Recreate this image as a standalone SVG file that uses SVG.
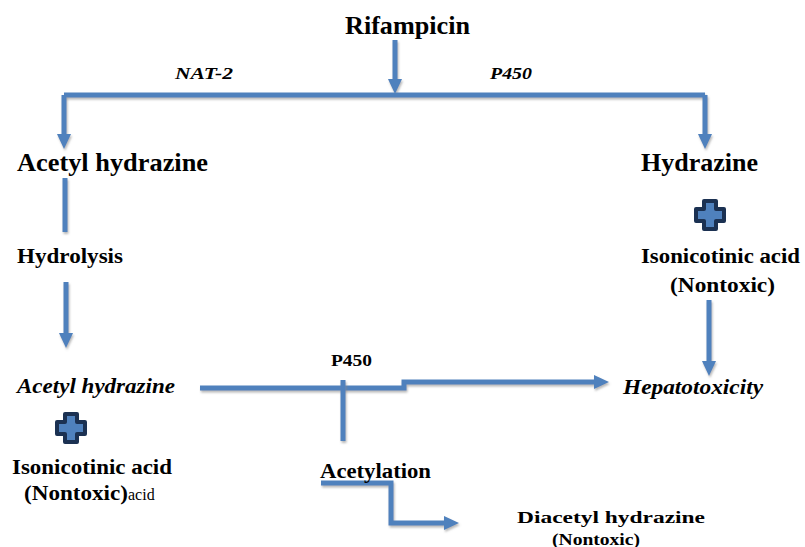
<svg xmlns="http://www.w3.org/2000/svg" width="805" height="547" viewBox="0 0 805 547">
<style>
text{font-family:'Times New Roman','Liberation Serif','DejaVu Serif',serif;fill:#000;font-weight:bold}
.big{font-size:25px}
.mid{font-size:20px}
.sm{font-size:16px}
.it{font-style:italic}
.con{fill:none;stroke:#4f81bd;stroke-width:5;filter:url(#sh)}
.plus{fill:#4f81bd;stroke:#1b3152;stroke-width:4;stroke-linejoin:round}
</style>
<defs>
<filter id="sh" filterUnits="userSpaceOnUse" x="0" y="0" width="805" height="547">
<feDropShadow dx="1" dy="2" stdDeviation="0.8" flood-color="#888" flood-opacity="0.6"/>
</filter>
<marker id="ah" markerUnits="userSpaceOnUse" markerWidth="16" markerHeight="16" refX="0" refY="8" orient="auto" viewBox="0 0 16 16">
<path d="M0,1 L15,8 L0,15 z" fill="#4f81bd"/>
</marker>
<g id="plusShape"><path class="plus" d="M-6,-14 H6 V-6 H14 V6 H6 V14 H-6 V6 H-14 V-6 H-6 Z"/></g>
</defs>

<g id="connectors">
<path class="con" d="M395,40 V79" marker-end="url(#ah)"/>
<path class="con" d="M64,95 H705"/>
<path class="con" d="M64,95 V134" marker-end="url(#ah)"/>
<path class="con" d="M705,95 V134" marker-end="url(#ah)"/>
<path class="con" d="M65,178 V232"/>
<path class="con" d="M66,282 V333" marker-end="url(#ah)"/>
<path class="con" d="M709,300 V361" marker-end="url(#ah)"/>
<path class="con" d="M200,388 H404 V382 H594" marker-end="url(#ah)"/>
<path class="con" d="M343,380 V441"/>
<path class="con" d="M321,483 H391 V523 H444" marker-end="url(#ah)"/>
</g>

<g id="rifampicin"><text class="big" x="345" y="34" textLength="125" lengthAdjust="spacingAndGlyphs">Rifampicin</text></g>
<g id="nat2"><text class="it" x="175" y="79" font-size="17" textLength="58" lengthAdjust="spacingAndGlyphs">NAT-2</text></g>
<g id="p450top"><text class="it" x="490" y="79" font-size="17" textLength="42" lengthAdjust="spacingAndGlyphs">P450</text></g>
<g id="acetylhydrazine1"><text class="big" x="17" y="171" textLength="191" lengthAdjust="spacingAndGlyphs">Acetyl hydrazine</text></g>
<g id="hydrazine"><text class="big" x="641" y="171" textLength="117" lengthAdjust="spacingAndGlyphs">Hydrazine</text></g>
<g id="hydrolysis"><text class="mid" x="17" y="263" textLength="106" lengthAdjust="spacingAndGlyphs">Hydrolysis</text></g>
<g id="plusRight"><use href="#plusShape" x="710" y="215"/></g>
<g id="isoRight">
<text class="mid" x="641" y="263" textLength="159" lengthAdjust="spacingAndGlyphs">Isonicotinic acid</text>
<text class="mid" x="670" y="292" textLength="105" lengthAdjust="spacingAndGlyphs">(Nontoxic)</text>
</g>
<g id="acetylhydrazine2"><text class="mid it" x="17" y="393" textLength="158" lengthAdjust="spacingAndGlyphs">Acetyl hydrazine</text></g>
<g id="plusLeft"><use href="#plusShape" x="71" y="428"/></g>
<g id="isoLeft">
<text class="mid" x="12" y="474" textLength="160" lengthAdjust="spacingAndGlyphs">Isonicotinic acid</text>
<text class="mid" x="24" y="500" textLength="104" lengthAdjust="spacingAndGlyphs">(Nontoxic)</text>
<text x="128" y="500" font-size="16" style="font-weight:normal">acid</text>
</g>
<g id="p450mid"><text class="sm" x="331" y="366" textLength="41" lengthAdjust="spacingAndGlyphs">P450</text></g>
<g id="hepatotoxicity"><text class="mid it" x="623" y="394" textLength="140" lengthAdjust="spacingAndGlyphs">Hepatotoxicity</text></g>
<g id="acetylation"><text class="mid" x="320" y="478" textLength="111" lengthAdjust="spacingAndGlyphs">Acetylation</text></g>
<g id="diacetyl">
<text class="sm" x="517" y="523" textLength="188" lengthAdjust="spacingAndGlyphs">Diacetyl hydrazine</text>
<text class="sm" x="552" y="545" textLength="88" lengthAdjust="spacingAndGlyphs">(Nontoxic)</text>
</g>
</svg>
